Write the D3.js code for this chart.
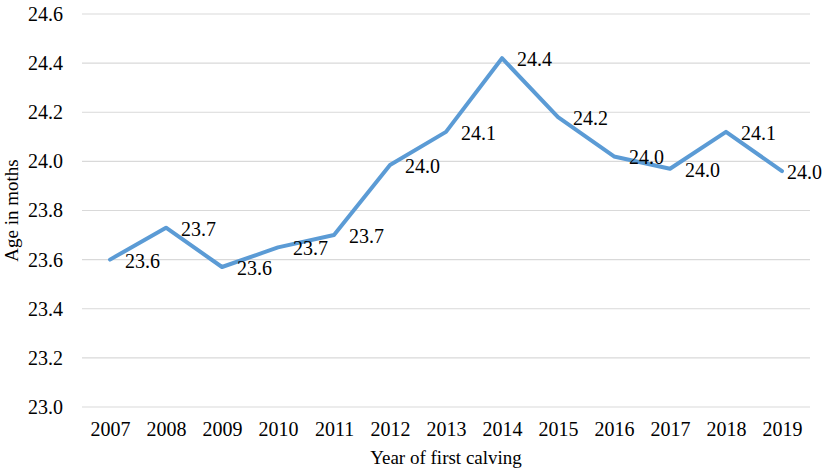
<!DOCTYPE html>
<html><head><meta charset="utf-8">
<script src="https://cdn.jsdelivr.net/npm/d3@7"></script>
<style>body{margin:0;background:#fff}svg{display:block}text{font-family:"Liberation Serif","Times New Roman",Times,"DejaVu Serif",serif;fill:#000}</style>
</head><body>
<svg id="c" width="827" height="472"></svg>
<script>
const years = ["2007","2008","2009","2010","2011","2012","2013","2014","2015","2016","2017","2018","2019"];
const ages = [23.60,23.73,23.57,23.65,23.70,23.985,24.12,24.42,24.18,24.02,23.97,24.12,23.96];
const labels = ["23.6","23.7","23.6","23.7","23.7","24.0","24.1","24.4","24.2","24.0","24.0","24.1","24.0"];
const yTicks = [23.0,23.2,23.4,23.6,23.8,24.0,24.2,24.4,24.6];

const FONT = '"Liberation Serif","Times New Roman",Times,"DejaVu Serif",serif';
const svg = d3.select("#c");
const pL = 82, pR = 810, pT = 14, pB = 407;
const x = d3.scalePoint().domain(years).range([pL, pR]).padding(0.5);
const y = d3.scaleLinear().domain([23.0, 24.6]).range([pB, pT]);

// gridlines
svg.append("g").selectAll("line").data(yTicks).join("line")
  .attr("x1", pL).attr("x2", pR)
  .attr("y1", d => y(d)).attr("y2", d => y(d))
  .attr("stroke", "#d9d9d9").attr("stroke-width", 1.2);

// y axis
const ya = svg.append("g").attr("transform", `translate(${pL},0)`)
  .call(d3.axisLeft(y).tickValues(yTicks).tickFormat(d3.format(".1f")).tickSize(0).tickPadding(19));
ya.attr("font-family", FONT);
ya.select(".domain").remove();
ya.selectAll("text").attr("font-size", 20).style("font-family", FONT);

// x axis
const xa = svg.append("g").attr("transform", `translate(0,${pB})`)
  .call(d3.axisBottom(x).tickSize(0).tickPadding(15));
xa.attr("font-family", FONT);
xa.select(".domain").remove();
xa.selectAll("text").attr("font-size", 20).style("font-family", FONT);

// line
const pts = years.map((yr, i) => ({yr, v: ages[i], l: labels[i]}));
svg.append("path").datum(pts)
  .attr("fill", "none").attr("stroke", "#5b9bd5").attr("stroke-width", 4)
  .attr("stroke-linejoin", "round").attr("stroke-linecap", "round")
  .attr("d", d3.line().x(d => x(d.yr)).y(d => y(d.v)));

// data labels
svg.append("g").selectAll("text").data(pts).join("text")
  .attr("x", (d, i) => Math.min(x(d.yr) + 15, 787)).attr("y", d => y(d.v) + 8)
  .attr("font-size", 20).style("font-family", FONT).text(d => d.l);

// axis titles
svg.append("text").attr("x", (pL + pR) / 2).attr("y", 464)
  .attr("text-anchor", "middle").attr("font-size", 19).style("font-family", FONT).text("Year of first calving");
svg.append("text").attr("transform", `translate(18,${(pT + pB) / 2}) rotate(-90)`)
  .attr("text-anchor", "middle").attr("font-size", 19).style("font-family", FONT).text("Age in moths");
</script>
</body></html>
